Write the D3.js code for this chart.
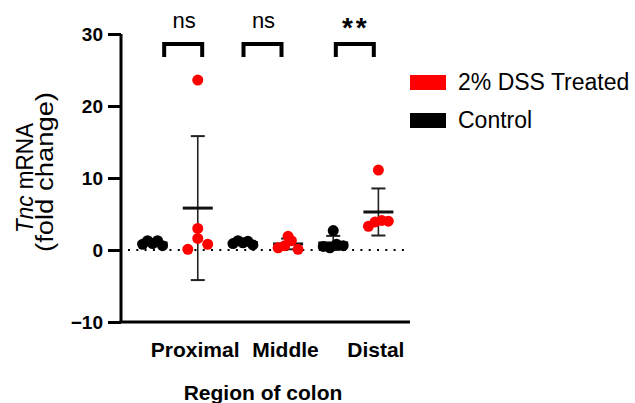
<!DOCTYPE html>
<html>
<head>
<meta charset="utf-8">
<script src="https://cdn.jsdelivr.net/npm/d3@7"></script>
<style>
  body { margin: 0; background: #fff; }
  text { font-family: "Liberation Sans", Arial, sans-serif; }
</style>
</head>
<body>
<script>
const width = 635;
const height = 403;

// data
const regions = ["Proximal", "Middle", "Distal"];
const groups = ["Control", "2% DSS Treated"];
const controlValues = [
  [0.8, 1.3, 0.9, 1.3, 0.6],
  [0.9, 1.3, 1.0, 1.2, 0.7],
  [0.5, 2.7, 0.3, 0.8, 0.6],
];
const dssValues = [
  [0.1, 23.6, 1.6, 0.8, 3.0],
  [0.3, 1.9, 0.6, 1.3, 0.1],
  [3.3, 11.1, 3.9, 4.1, 4.0],
];
const significance = ["ns", "ns", "**"];
const yTicks = [-10, 0, 10, 20, 30];
const legendOrder = ["2% DSS Treated", "Control"];

const colors = { "Control": "#000000", "2% DSS Treated": "#ff0000" };
const margin = { l: 121, r: 225, t: 34, b: 81 };
const dotR = 5.5;

const slots = [];
regions.forEach((r, i) => {
  slots.push({ region: r, group: "Control", values: controlValues[i] });
  slots.push({ region: r, group: "2% DSS Treated", values: dssValues[i] });
});
const slotKey = (d) => d.region + "|" + d.group;

const svg = d3.select("body").append("svg")
  .attr("width", width)
  .attr("height", height);

const x = d3.scalePoint()
  .domain(slots.map(slotKey))
  .range([margin.l, width - margin.r])
  .padding(0.7);

const y = d3.scaleLinear()
  .domain([-10, 30])
  .range([height - margin.b, margin.t]);

// spread points of similar value into rows (prism style)
const arrange = (values) => {
  const rowH = dotR * 1.8;
  const rowW = x.step() * 0.44;
  const sorted = values.map((v, i) => ({ v, i })).sort((a, b) => a.v - b.v);
  const rows = [];
  sorted.forEach((p) => {
    const last = rows[rows.length - 1];
    if (last && y(last[0].v) - y(p.v) <= rowH) last.push(p);
    else rows.push([p]);
  });
  const out = [];
  rows.forEach((row) => {
    row.sort((a, b) => a.i - b.i);
    const n = row.length;
    row.forEach((p, k) => {
      out.push({ v: p.v, dx: n === 1 ? 0 : -rowW / 2 + (k * rowW) / (n - 1) });
    });
  });
  return out;
};

// zero line
svg.append("line")
  .attr("x1", margin.l + 7).attr("x2", width - margin.r)
  .attr("y1", y(0)).attr("y2", y(0))
  .attr("stroke", "#000")
  .attr("stroke-width", 2.2)
  .attr("stroke-dasharray", "2,6.3");

// mean and sd bars
const bars = svg.append("g").attr("class", "bars");
slots.forEach((d) => {
  const cx = x(slotKey(d));
  const m = d3.mean(d.values);
  const sd = d3.deviation(d.values);
  bars.append("line")
    .attr("x1", cx).attr("x2", cx)
    .attr("y1", y(m - sd)).attr("y2", y(m + sd))
    .attr("stroke", "#222").attr("stroke-width", 1.6);
  [m - sd, m + sd].forEach((v) => {
    bars.append("line")
      .attr("x1", cx - 7).attr("x2", cx + 7)
      .attr("y1", y(v)).attr("y2", y(v))
      .attr("stroke", "#222").attr("stroke-width", 2);
  });
  bars.append("line")
    .attr("x1", cx - 15).attr("x2", cx + 15)
    .attr("y1", y(m)).attr("y2", y(m))
    .attr("stroke", "#111").attr("stroke-width", 3);
});

// points
const pts = svg.append("g").attr("class", "points");
slots.forEach((d) => {
  const cx = x(slotKey(d));
  pts.selectAll(null)
    .data(arrange(d.values))
    .enter()
    .append("circle")
    .attr("cx", (p) => cx + p.dx)
    .attr("cy", (p) => y(p.v))
    .attr("r", dotR)
    .attr("fill", colors[d.group]);
});

// y axis
const yAxis = svg.append("g")
  .attr("transform", `translate(${margin.l},0)`)
  .call(d3.axisLeft(y).tickValues(yTicks).tickSize(13).tickPadding(5).tickFormat(d3.format("d")));
yAxis.select(".domain").attr("stroke-width", 3).attr("d", `M0,${y(30)}V${y(-10)}`);
yAxis.selectAll(".tick line").attr("stroke-width", 3);
yAxis.selectAll(".tick text")
  .attr("font-size", 19).attr("font-weight", "bold")
  .attr("font-family", "'Liberation Sans', Arial, sans-serif")
  .attr("fill", "#000");

// x axis line
svg.append("line")
  .attr("x1", margin.l - 1.5).attr("x2", width - margin.r)
  .attr("y1", y(-10)).attr("y2", y(-10))
  .attr("stroke", "#000").attr("stroke-width", 3);

// region labels
const regionMid = (i) => (x(slotKey(slots[2 * i])) + x(slotKey(slots[2 * i + 1]))) / 2;
svg.selectAll("text.region")
  .data(regions)
  .enter()
  .append("text")
  .attr("class", "region")
  .attr("x", (d, i) => regionMid(i) + 20)
  .attr("y", 357)
  .attr("text-anchor", "middle")
  .attr("font-size", 21)
  .attr("font-weight", "bold")
  .text((d) => d);

svg.append("text")
  .attr("x", 263).attr("y", 400)
  .attr("text-anchor", "middle")
  .attr("font-size", 21).attr("font-weight", "bold")
  .text("Region of colon");

// y title
const yt = svg.append("text")
  .attr("transform", `translate(33,178) rotate(-90)`)
  .attr("text-anchor", "middle")
  .attr("font-size", 23)
  .attr("textLength", 110)
  .attr("lengthAdjust", "spacingAndGlyphs");
yt.append("tspan").attr("font-style", "italic").text("Tnc");
yt.append("tspan").text(" mRNA");
svg.append("text")
  .attr("transform", `translate(53,172) rotate(-90)`)
  .attr("text-anchor", "middle")
  .attr("font-size", 23)
  .attr("textLength", 160)
  .attr("lengthAdjust", "spacingAndGlyphs")
  .text("(fold change)");

// significance brackets
const bracketNudge = [8, -3, -1];
significance.forEach((s, i) => {
  const cx = regionMid(i) + bracketNudge[i];
  svg.append("path")
    .attr("d", `M${cx - 19},57V44H${cx + 19}V57`)
    .attr("fill", "none")
    .attr("stroke", "#000")
    .attr("stroke-width", 4);
  svg.append("text")
    .attr("x", cx + 1)
    .attr("y", s === "**" ? 37 : 28)
    .attr("text-anchor", "middle")
    .attr("font-size", s === "**" ? 28 : 22)
    .attr("font-weight", s === "**" ? "bold" : "normal")
    .attr("letter-spacing", s === "**" ? 3 : 0)
    .text(s);
});

// legend
const legend = svg.append("g").attr("transform", "translate(410,75)");
legendOrder.forEach((g, i) => {
  legend.append("rect")
    .attr("x", 0).attr("y", i * 38)
    .attr("width", 36).attr("height", 15)
    .attr("fill", colors[g]);
  legend.append("text")
    .attr("x", 48).attr("y", i * 38 + 15)
    .attr("font-size", 23)
    .text(g);
});
</script>
</body>
</html>
